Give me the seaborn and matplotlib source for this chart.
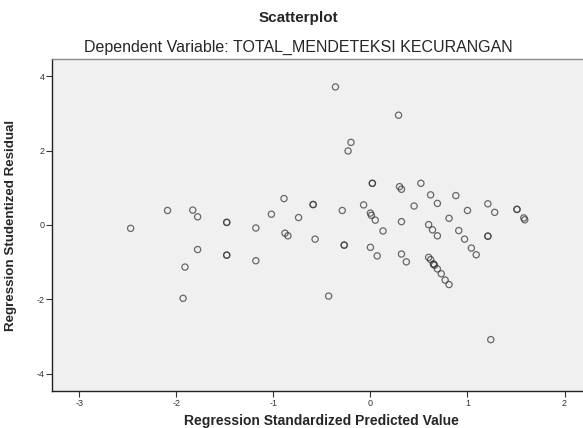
import matplotlib
matplotlib.use('Agg')
import matplotlib.pyplot as plt
import seaborn as sns
import pandas as pd

# Values (duplicates = darker, overlapping circles)
pred_value = [-0.36, 0.29, -0.20, -0.23,
              -2.09, -1.83, -1.78, -1.48, -1.48, -2.47, -1.78, -1.48, -1.48, -1.91, -1.93,
              0.02, 0.02, 0.30, 0.32, 0.52, -0.89, -0.59, -0.59, -0.07, -1.02, -0.29,
              0.00, 0.01, 0.05, 0.45, -0.74, -1.18, 0.32, 0.13, -0.88, -0.85, -0.57,
              -0.27, -0.27, 0.00, 0.07, 0.32, 0.37, -1.18, -0.43,
              0.62, 0.88, 0.69, 1.21, 1.00, 1.28, 1.51, 1.51, 1.58, 1.59, 0.81,
              0.60, 0.64, 0.69, 0.91, 0.97, 1.21, 1.21, 1.04, 1.09,
              0.60, 0.62, 0.65, 0.65, 0.66, 0.69, 0.73, 0.77, 0.81, 1.24]
stud_resid = [3.71, 2.95, 2.22, 1.99,
              0.39, 0.40, 0.22, 0.07, 0.07, -0.09, -0.66, -0.81, -0.81, -1.13, -1.97,
              1.12, 1.12, 1.03, 0.96, 1.12, 0.71, 0.55, 0.55, 0.54, 0.29, 0.39,
              0.32, 0.26, 0.13, 0.51, 0.20, -0.08, 0.09, -0.16, -0.22, -0.29, -0.38,
              -0.54, -0.54, -0.60, -0.83, -0.78, -0.99, -0.96, -1.91,
              0.81, 0.79, 0.58, 0.57, 0.39, 0.34, 0.42, 0.42, 0.19, 0.14, 0.18,
              0.01, -0.13, -0.29, -0.15, -0.38, -0.30, -0.30, -0.62, -0.80,
              -0.87, -0.93, -1.05, -1.05, -1.08, -1.18, -1.31, -1.48, -1.60, -3.08]

x_ticks = [-3, -2, -1, 0, 1, 2]
y_ticks = [-4, -2, 0, 2, 4]

df = pd.DataFrame({'pred': pred_value, 'resid': stud_resid})

sns.set_style('white')
plt.rcParams['font.family'] = ['Liberation Sans', 'DejaVu Sans']
plt.rcParams['axes.unicode_minus'] = False

fig = plt.figure(figsize=(5.83, 4.28), dpi=100)
ax = fig.add_axes([52/583, 37/428, 531/583, 332/428])
ax.set_facecolor('#f0f0f0')

sns.scatterplot(data=df, x='pred', y='resid', ax=ax, marker='o', s=20,
                facecolor='none', edgecolor='#3a3a3a', linewidth=0.9, alpha=0.75)

ax.set_xlim(-3.28, 2.19)
ax.set_ylim(-4.46, 4.46)
ax.set_xticks(x_ticks)
ax.set_yticks(y_ticks)
ax.tick_params(axis='both', direction='out', length=4, width=0.8, color='#333333',
               labelsize=6.5, labelcolor='#333333', pad=1.5, left=True, bottom=True)

for side in ['left', 'bottom']:
    ax.spines[side].set_color('#222222')
    ax.spines[side].set_linewidth(1.0)
ax.spines['top'].set_color('#8a8a8a')
ax.spines['top'].set_linewidth(1.0)
ax.spines['right'].set_visible(False)

ax.set_xlabel('Regression Standardized Predicted Value', fontsize=10, fontweight='bold')
ax.set_ylabel('Regression Studentized Residual', fontsize=9.6, fontweight='bold')
ax.xaxis.set_label_coords(0.508, -0.069)
ax.yaxis.set_label_coords(-0.066, 0.5)

fig.text(298/583, 1 - 18/428, 'Scatterplot', ha='center', va='center',
         fontsize=11, fontweight='bold')
fig.text(298/583, 1 - 47/428, 'Dependent Variable: TOTAL_MENDETEKSI KECURANGAN',
         ha='center', va='center', fontsize=11.5)

plt.savefig('out.png', dpi=100)
